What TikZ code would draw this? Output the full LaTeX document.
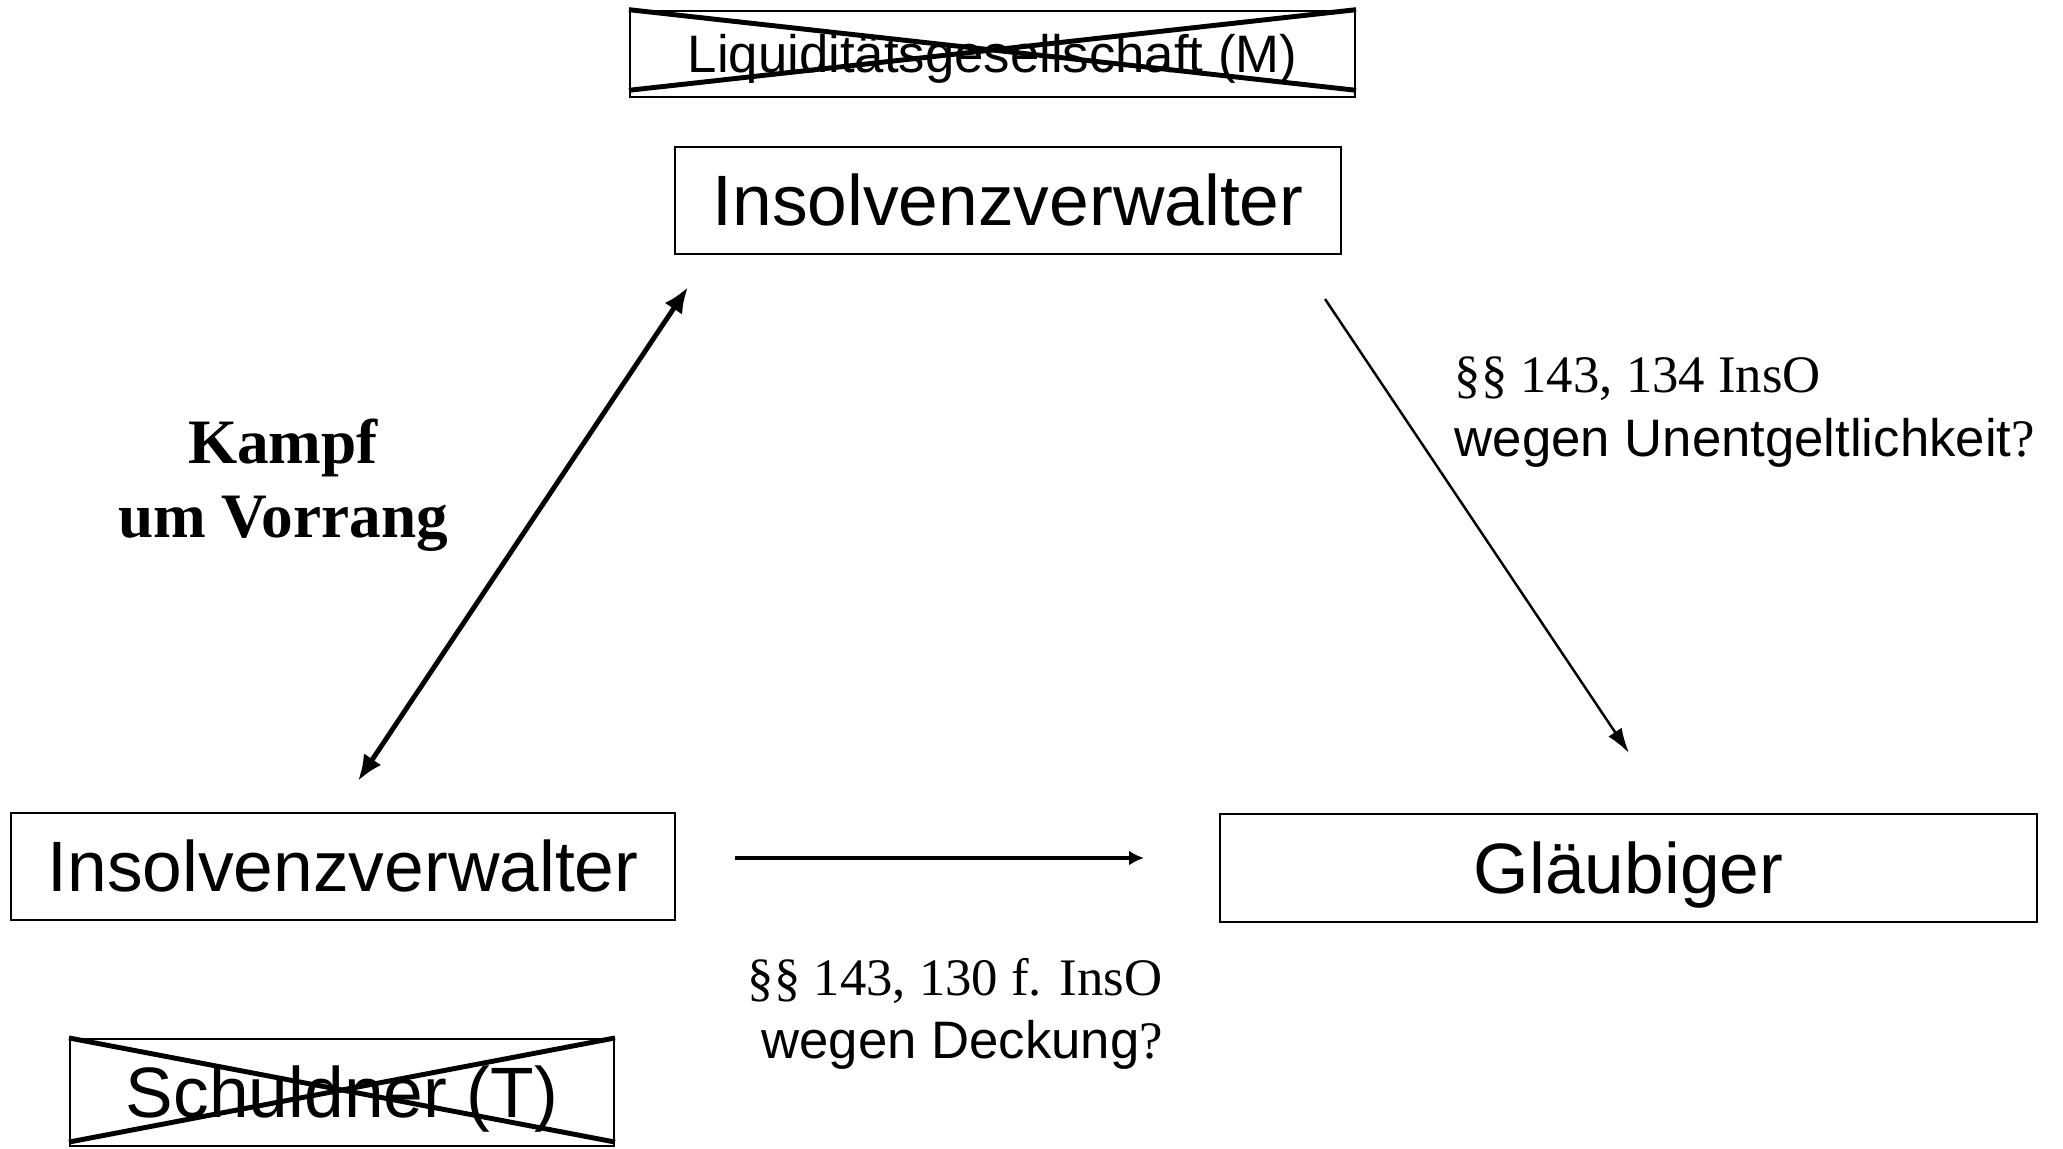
\documentclass[tikz,border=0pt]{standalone}
\usepackage{fontspec}
\setmainfont{Liberation Serif}
\setsansfont{Liberation Sans}
\usetikzlibrary{arrows.meta,calc}
\newcommand{\bigsf}{\fontsize{20.3pt}{24pt}\selectfont\sffamily}
\newcommand{\smallsf}{\fontsize{15pt}{18pt}\selectfont\sffamily}
\newcommand{\smallrm}{\fontsize{15pt}{18pt}\selectfont\rmfamily}

\begin{document}
\begin{tikzpicture}[>=Latex,
    box/.style={draw, line width=0.6pt, inner sep=0pt, minimum height=1.07cm, font=\bigsf, text height=14.5pt, text depth=0pt},
    cross/.style={line width=1.4pt},
    pfeil/.style={-{Latex[length=2.5mm,width=1.6mm]}, line width=0.7pt}
]
    \useasboundingbox (0,0) rectangle (20.63,11.48);

    % Boxes
    \node[box, minimum width=7.25cm, minimum height=0.865cm, font=\smallsf, text height=10.7pt] (liq) at (9.925,10.94) {Liquiditätsgesellschaft (M)};
    \node[box, minimum width=6.66cm] (ivtop) at (10.08,9.475) {Insolvenzverwalter};
    \node[box, minimum width=6.645cm] (ivleft) at (3.43,2.815) {Insolvenzverwalter};
    \node[box, minimum width=8.17cm, minimum height=1.08cm] (glaeub) at (16.285,2.80) {Gläubiger};
    \node[box, minimum width=5.44cm] (schuld) at (3.42,0.555) {Schuldner (T)};

    % Crossed out
    \draw[cross] (liq.north west) -- ($(liq.south east)+(0,0.08)$);
    \draw[cross] ($(liq.south west)+(0,0.08)$) -- (liq.north east);
    \draw[cross] (schuld.north west) -- ($(schuld.south east)+(0,0.05)$);
    \draw[cross] ($(schuld.south west)+(0,0.05)$) -- (schuld.north east);

    % Arrows
    \coordinate (kampfA) at (3.58,3.67);
    \coordinate (kampfB) at (6.88,8.61);
    \coordinate (anfA) at (13.25,8.49);
    \coordinate (anfB) at (16.29,3.95);
    \coordinate (deckA) at (7.35,2.90);
    \coordinate (deckB) at (11.44,2.90);
    \draw[{Latex[length=2.6mm,width=2.1mm]}-{Latex[length=2.6mm,width=2.1mm]}, line width=1.4pt] (kampfA) -- (kampfB);
    \draw[pfeil] (anfA) -- (anfB);
    \draw[-{Latex[length=1.5mm,width=1.5mm]}, line width=0.9pt] (deckA) -- (deckB);

    % Labels
    \node[align=center, font=\fontsize{18pt}{21pt}\selectfont\bfseries] (kampf) at (2.83,6.63) {Kampf\\um Vorrang};
    \node[anchor=west, align=left, inner sep=0pt, font=\smallrm] (unentg) at (14.54,7.36)
        {§§ 143, 134 InsO\\\smallsf wegen Unentgeltlichkeit\smallrm ?};
    \node[align=center, inner sep=0pt, font=\smallrm] (deckung) at (9.55,1.34)
        {§§ 143, 130 f. InsO\\\smallsf\ wegen Deckung\smallrm ?};
\end{tikzpicture}
\end{document}
